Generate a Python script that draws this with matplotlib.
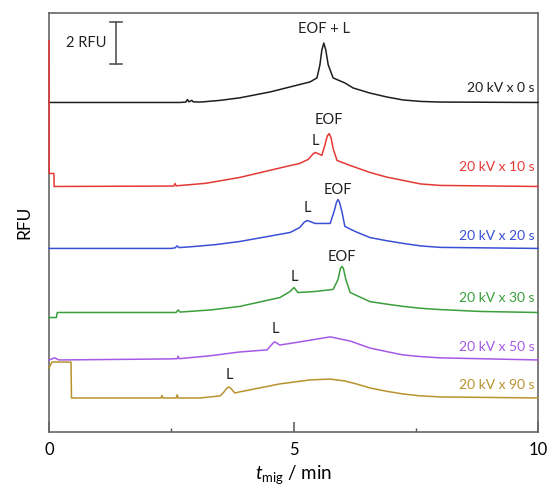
import matplotlib
matplotlib.use("Agg")
import matplotlib.pyplot as plt
from matplotlib.ticker import MultipleLocator

plt.rcParams["font.family"] = ["Lato", "DejaVu Sans"]
plt.rcParams["mathtext.fontset"] = "custom"
plt.rcParams["mathtext.it"] = "Lato:italic"
plt.rcParams["mathtext.rm"] = "Lato"

# Electropherograms: migration time (min) and signal above each trace's own baseline (RFU)
t_0s = [0, 2.68, 2.80, 2.83, 2.86, 2.92, 2.95, 3.10, 3.50, 3.90, 4.52, 5.34, 5.48, 5.54,
        5.58, 5.62, 5.66, 5.71, 5.81, 6.05, 6.22, 6.56, 6.91, 7.24, 7.60, 8.00, 10.0]
rfu_0s = [0, 0, 0.02, 0.14, 0.03, 0.10, 0.03, 0.02, 0.10, 0.22, 0.50, 0.98, 1.17, 1.79,
          2.50, 2.83, 2.50, 1.79, 1.17, 0.93, 0.69, 0.45, 0.26, 0.12, 0.05, 0.02, 0]

t_10s = [0, 0.005, 0.10, 0.105, 2.55, 2.58, 2.60, 3.20, 3.90, 4.72, 5.13, 5.30, 5.40,
         5.44, 5.49, 5.58, 5.64, 5.69, 5.73, 5.77, 5.81, 5.89, 6.16, 6.56, 6.90, 7.24,
         7.60, 8.00, 10.0]
rfu_10s = [6.95, 0.62, 0.62, 0, 0.02, 0.14, 0.03, 0.15, 0.43, 0.88, 1.10, 1.29, 1.55,
           1.62, 1.58, 1.48, 1.95, 2.40, 2.52, 2.30, 1.81, 1.24, 1.00, 0.67, 0.45, 0.29,
           0.12, 0.05, 0]

t_20s = [0, 2.50, 2.58, 2.62, 2.66, 2.90, 3.40, 3.90, 4.93, 5.13, 5.22, 5.28, 5.34, 5.44,
         5.75, 5.83, 5.88, 5.91, 5.94, 5.99, 6.05, 6.26, 6.56, 6.90, 7.24, 7.60, 8.00,
         10.0]
rfu_20s = [0, 0, 0.03, 0.12, 0.04, 0.08, 0.18, 0.33, 0.76, 1.00, 1.25, 1.33, 1.28, 1.19,
           1.19, 1.76, 2.20, 2.33, 2.20, 1.76, 1.05, 0.81, 0.52, 0.37, 0.24, 0.12, 0.05, 0]

t_30s = [0, 0.15, 0.17, 2.60, 2.64, 2.68, 3.30, 3.90, 4.72, 4.93, 5.01, 5.09, 5.44, 5.81,
         5.91, 5.96, 5.99, 6.02, 6.07, 6.16, 6.56, 6.90, 7.24, 7.60, 8.00, 8.81, 10.0]
rfu_30s = [-0.24, -0.24, 0, 0, 0.12, 0.02, 0.12, 0.29, 0.71, 1.00, 1.19, 0.95, 1.00, 1.10,
           1.57, 2.10, 2.19, 2.10, 1.57, 0.95, 0.52, 0.40, 0.29, 0.20, 0.14, 0.05, 0]

t_50s = [0, 0.12, 0.20, 2.47, 2.62, 2.64, 2.66, 3.30, 3.90, 4.46, 4.58, 4.62, 4.66, 4.72,
         5.13, 5.75, 6.16, 6.56, 6.90, 7.24, 7.60, 8.00, 10.0]
rfu_50s = [0, 0.10, 0, 0.05, 0.06, 0.18, 0.06, 0.20, 0.38, 0.48, 0.80, 0.86, 0.80, 0.71,
           0.86, 1.10, 0.90, 0.57, 0.40, 0.24, 0.16, 0.10, 0]

t_90s = [0, 0.06, 0.45, 0.46, 2.29, 2.31, 2.33, 2.60, 2.62, 2.64, 3.09, 3.50, 3.58, 3.64,
         3.68, 3.72, 3.80, 3.90, 4.72, 5.34, 5.75, 6.05, 6.30, 6.56, 6.90, 7.24, 7.60,
         8.00, 10.0]
rfu_90s = [1.43, 1.71, 1.71, 0, 0, 0.12, 0, 0, 0.15, 0, 0, 0.10, 0.29, 0.48, 0.52, 0.45,
           0.24, 0.29, 0.67, 0.86, 0.90, 0.81, 0.66, 0.48, 0.32, 0.19, 0.10, 0.05, 0]

traces_t = [t_0s, t_10s, t_20s, t_30s, t_50s, t_90s]
traces_rfu = [rfu_0s, rfu_10s, rfu_20s, rfu_30s, rfu_50s, rfu_90s]
baselines = [15.69, 11.69, 8.74, 5.69, 3.43, 1.62]
trace_labels = ["20 kV x 0 s", "20 kV x 10 s", "20 kV x 20 s",
                "20 kV x 30 s", "20 kV x 50 s", "20 kV x 90 s"]
colors = ["#1e1e1e", "#e53935", "#3b4fd6", "#3a9e3a", "#a55ae6", "#b8922e"]
label_rise = [14, 19, 12, 14, 13, 13]  # pixels from baseline to label centre

# Peak annotations: (trace index, migration time of the peak, text, pixel gap above peak)
peak_marks = [(0, 5.62, "EOF + L", 14),
              (1, 5.44, "L", 11), (1, 5.73, "EOF", 14),
              (2, 5.28, "L", 13), (2, 5.91, "EOF", 10),
              (3, 5.01, "L", 11), (3, 5.99, "EOF", 10),
              (4, 4.62, "L", 13),
              (5, 3.68, "L", 12)]

fig = plt.figure(figsize=(5.48, 4.86), dpi=100)
ax = fig.add_axes([49 / 548, 54 / 486, 489 / 548, 419 / 486])

for t, r, base, c in zip(traces_t, traces_rfu, baselines, colors):
    ax.plot(t, [base + v for v in r], color=c, lw=1.1, solid_joinstyle="round",
            zorder=3, clip_on=False)

for lab, base, c, rise in zip(trace_labels, baselines, colors, label_rise):
    ax.annotate(lab, xy=(9.93, base), xytext=(0, rise), textcoords="offset pixels",
                ha="right", va="center", color=c, fontsize=10)

for idx, tp, txt, gap in peak_marks:
    t, r = traces_t[idx], traces_rfu[idx]
    j = min(range(len(t)), key=lambda k: abs(t[k] - tp))
    y = baselines[idx] + r[j]
    ax.annotate(txt, xy=(tp, y), xytext=(0, gap), textcoords="offset pixels",
                ha="center", va="center", color="#222222", fontsize=10.5)

# 2 RFU scale bar
bar_t, bar_lo, bar_hi = 1.37, 17.52, 19.52
ax.plot([bar_t, bar_t], [bar_lo, bar_hi], color="#555555", lw=1.2)
for yy in (bar_lo, bar_hi):
    ax.plot([bar_t - 0.13, bar_t + 0.13], [yy, yy], color="#555555", lw=1.2)
ax.text(bar_t - 0.2, (bar_lo + bar_hi) / 2, "2 RFU", ha="right", va="center",
        fontsize=10.5, color="#222222")

ax.set_xlim(0, 10)
ax.set_ylim(0, 19.95)
ax.xaxis.set_major_locator(MultipleLocator(5))
ax.xaxis.set_minor_locator(MultipleLocator(2.5))
ax.tick_params(axis="x", which="major", direction="in", length=7, width=1.1,
               color="#555555", labelsize=12, pad=7)
ax.tick_params(axis="x", which="minor", direction="in", length=3, width=1, color="#555555")
ax.set_yticks([])
for s in ax.spines.values():
    s.set_color("#666666")
    s.set_linewidth(1.2)

ax.set_ylabel("RFU", fontsize=12.5, labelpad=12)
ax.set_xlabel(r"$t_\mathregular{mig}$ / min", fontsize=13.5, labelpad=4)

fig.savefig("out.png", dpi=100)
